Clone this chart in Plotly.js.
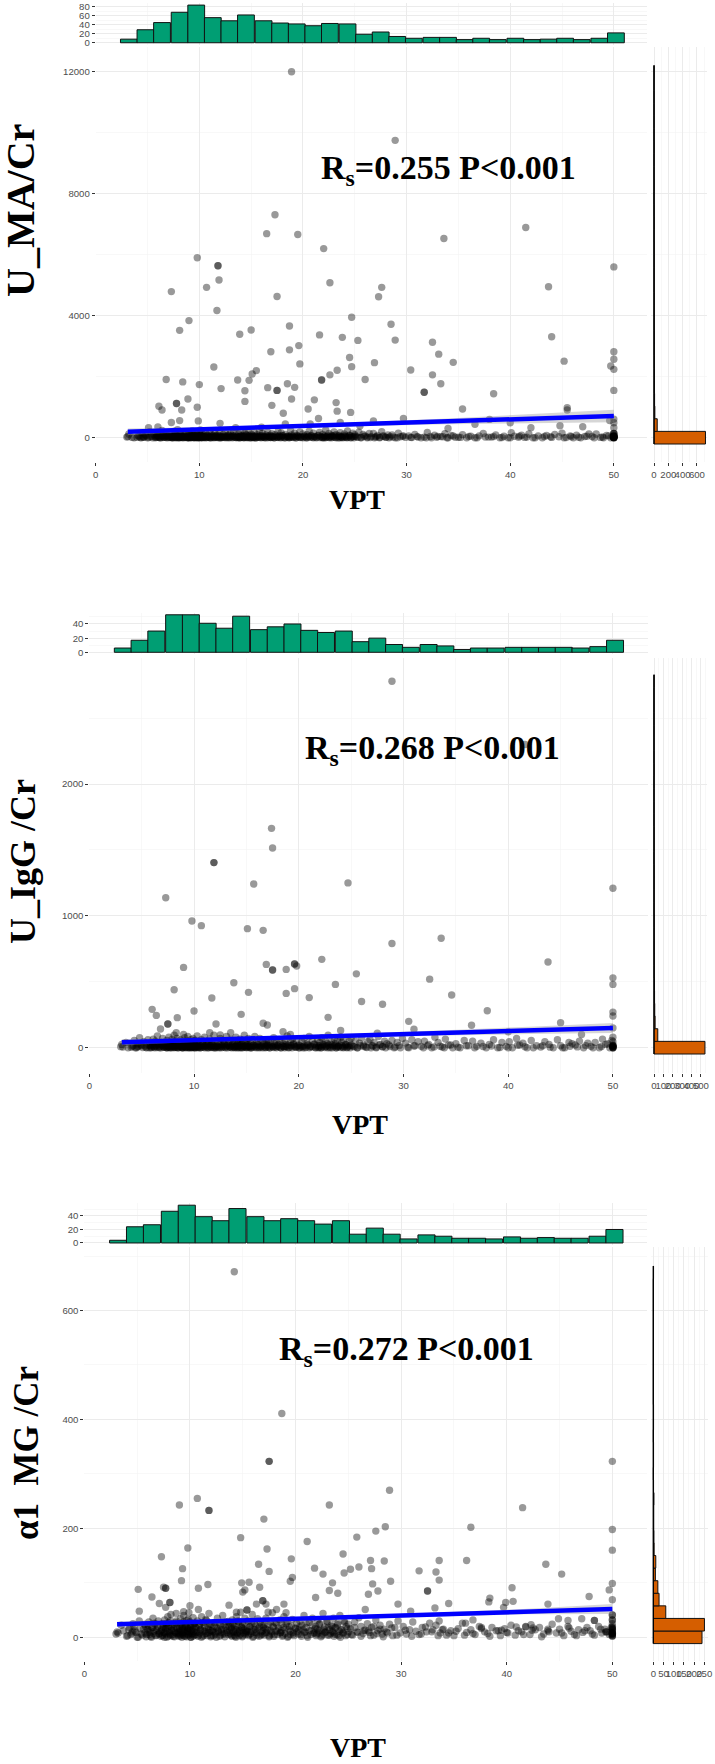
<!DOCTYPE html>
<html><head><meta charset="utf-8">
<script src="https://cdn.plot.ly/plotly-3.0.1.min.js"></script>
<style>html,body{margin:0;padding:0;background:#fff}</style>
</head><body><div id="chart" style="width:715px;height:1764px"></div>
<script>
// ---------------- DATA ----------------
// Top marginal histogram (VPT), 30 bins
const vptBinCenters = [3.2,4.8,6.4,8.1,9.7,11.3,12.9,14.5,16.2,17.8,19.4,21.0,22.6,24.3,25.9,27.5,29.1,30.7,32.4,34.0,35.6,37.2,38.8,40.5,42.1,43.7,45.3,46.9,48.6,50.2];
const vptBinWidth = 1.62;
const umaTopCounts = [8,29,45,68,84,56,49,62,49,44,42,38,43,42,19,24,14,10,12,12,7,10,7,10,7,8,10,7,10,22];
const iggTopCounts = [6,17,30,53,53,41,34,51,32,36,40,31,28,30,15,20,11,7,11,9,4,6,6,7,7,7,7,6,8,17];
const a1mTopCounts = [4,24,27,47,56,39,33,51,39,33,36,33,28,33,13,22,13,6,12,10,7,7,6,9,7,8,7,7,10,20];
// Right marginal histograms (y variable), 30 bins starting at 0
const umaRightCounts = [720,45,12,8,6,6,5,4,4,3,3,3,2,2,2,2,1,2,1,0,1,0,0,1,0,0,0,0,0,1];
const iggRightCounts = [543,40,12,8,6,5,3,3,2,2,2,1,1,1,1,0,1,1,0,0,0,0,1,0,0,0,0,0,0,1];
const a1mRightCounts = [239,251,61,28,22,10,12,4,3,2,2,3,1,0,1,1,0,1,1,0,0,0,0,0,0,0,0,0,0,1];
const umaBinWidth = 413.8, iggBinWidth = 95.9, a1mBinWidth = 23.1;

// Dense cluster of low values, group A (same patients' VPT in all panels)
const vptDense = [
3.1,3.2,3.5,
4.1,4.3,4.5,4.6,4.8,5.0,5.2,5.4,5.6,
5.8,5.9,6.0,6.1,6.2,6.3,6.4,6.5,6.6,6.7,6.8,6.9,7.0,7.1,
7.3,7.4,7.4,7.5,7.6,7.6,7.7,7.8,7.8,7.9,8.0,8.0,8.1,8.2,8.2,8.3,8.4,8.5,8.6,8.7,8.8,
8.9,9.0,9.0,9.1,9.1,9.2,9.3,9.3,9.4,9.5,9.5,9.6,9.7,9.7,9.8,9.8,9.9,10.0,10.0,10.1,10.1,10.2,10.3,10.3,10.4,10.4,
10.5,10.6,10.7,10.8,10.9,11.0,11.1,11.2,11.3,11.4,11.5,11.6,11.7,11.8,11.9,12.0,12.0,
12.2,12.3,12.4,12.5,12.6,12.7,12.8,12.9,13.0,13.1,13.2,13.3,13.4,13.5,13.7,
13.8,13.9,13.9,14.0,14.1,14.2,14.3,14.4,14.4,14.5,14.6,14.7,14.8,14.9,15.0,15.0,15.1,15.2,15.3,
15.4,15.5,15.6,15.7,15.8,15.9,16.0,16.1,16.2,16.3,16.4,16.6,16.7,16.8,16.9,
17.0,17.1,17.2,17.3,17.5,17.6,17.7,17.8,17.9,18.0,18.2,18.3,18.5,
18.6,18.7,18.8,18.9,19.0,19.2,19.3,19.4,19.5,19.7,19.8,20.0,20.1,
20.3,20.4,20.5,20.6,20.8,20.9,21.0,21.1,21.3,21.5,21.6,21.8,
21.9,22.0,22.1,22.2,22.3,22.5,22.6,22.7,22.8,23.0,23.1,23.2,23.4,
23.5,23.6,23.7,23.8,24.0,24.1,24.2,24.3,24.5,24.6,24.8,24.9,25.0,
25.2,25.4,25.6,25.8,26.0,26.2,26.4,26.6,
26.8,27.0,27.2,27.4,27.6,27.8,28.0,28.2,28.4,
28.6,28.9,29.2,29.4,29.7,29.9,
30.2,30.5,30.8,31.1,31.4,
31.7,32.0,32.4,32.7,33.0,
33.3,33.7,34.0,34.3,34.7,
35.0,35.4,35.8,36.2,
36.6,37.0,37.4,37.9,
38.2,38.6,39.0,39.4,
39.8,40.1,40.4,40.8,41.1,
41.4,41.8,42.2,42.7,
43.1,43.5,43.9,44.3,
44.7,45.0,45.4,45.8,46.1,
46.4,46.8,47.2,47.6,
47.9,48.3,48.7,49.0,49.3,
49.5,49.7,49.9,50,50,50,50,50,50];
const umaDense = [
40,120,10,
60,5,150,30,90,0,200,45,110,
15,70,180,25,0,95,240,50,10,130,35,80,5,160,
20,100,0,55,210,30,140,8,75,260,40,0,115,18,190,60,5,85,30,150,12,
65,0,170,28,95,10,220,45,130,3,75,35,185,15,105,50,0,140,25,80,250,8,60,120,20,90,
40,160,5,70,25,200,0,100,45,10,135,60,20,85,230,0,55,
30,110,5,175,48,15,90,0,140,35,65,210,10,80,25,
120,0,55,190,20,75,5,150,40,95,12,260,60,0,115,30,85,8,170,
45,0,100,20,220,65,10,140,35,0,90,180,25,70,5,
130,40,0,95,15,200,55,10,160,75,0,110,30,
60,5,240,90,20,145,0,70,35,185,10,120,50,
0,95,30,210,65,12,150,40,0,85,175,20,
110,0,60,250,25,135,5,80,45,190,15,100,0,
70,160,30,0,120,55,10,220,85,0,145,40,95,
20,180,5,110,60,0,140,35,
140,25,75,0,200,45,10,90,30,
90,0,150,30,60,10,
60,5,110,25,0,
20,170,0,80,40,
35,130,0,70,15,
15,100,0,50,
0,60,140,20,
20,90,0,45,
0,160,45,15,80,
10,120,0,60,
0,70,30,110,
30,150,5,60,0,
85,0,40,120,
40,120,10,0,70,
60,0,20,0,30,80,10,130,50];
const iggDense = [
25,5,40,
10,55,0,30,75,15,45,2,60,
20,0,35,65,8,50,12,90,28,0,42,18,70,5,
30,0,55,15,80,5,40,22,0,62,10,35,95,3,48,18,70,0,25,58,12,
0,40,15,75,28,5,52,20,85,0,33,10,60,45,2,25,70,12,38,0,55,18,90,30,6,48,
22,0,60,35,10,80,15,45,0,28,65,5,38,18,95,0,50,
12,45,0,70,25,8,55,35,0,85,18,40,5,62,28,
50,5,30,80,0,42,15,65,22,0,55,10,95,35,3,48,20,70,8,
35,0,60,18,85,5,40,25,0,70,12,50,30,0,45,
20,55,0,38,10,75,28,5,60,15,45,0,32,
8,50,25,90,0,40,15,65,30,5,55,20,0,
45,10,70,0,35,20,85,5,50,28,0,60,
15,40,0,75,25,55,8,35,95,0,45,18,65,
30,0,55,12,80,40,5,60,22,0,48,15,70,
10,50,0,35,75,20,5,45,
60,15,40,0,85,25,8,50,30,
20,55,5,40,0,70,
35,0,60,15,45,
10,50,25,0,80,
40,5,65,20,0,
30,0,55,15,
50,10,35,0,
25,60,0,40,
10,45,0,70,20,
35,0,55,15,
5,45,25,0,
60,15,0,40,30,
20,50,0,35,
10,40,0,65,25,
30,0,55,10,80,20,0,45,15];
const a1mDense = [
10,8,22,
3,18,8,25,12,0,30,6,15,
20,5,14,28,9,2,18,35,11,24,4,16,30,7,
12,25,3,18,32,8,15,22,0,38,10,27,5,19,42,13,2,24,9,30,16,
6,20,11,34,3,26,14,8,40,18,2,23,10,31,5,16,45,12,28,0,21,7,36,15,4,25,
18,9,30,4,22,14,38,2,26,11,33,7,19,44,13,3,24,
10,27,5,18,35,12,2,22,9,40,15,6,28,13,20,
25,4,16,32,9,21,2,14,38,7,28,11,46,18,3,24,13,35,8,
15,30,5,20,11,42,2,26,14,8,34,19,4,23,12,
22,8,35,14,3,28,10,45,18,5,25,12,32,
9,24,4,38,15,28,2,20,11,33,6,17,26,
14,30,5,22,40,10,18,3,27,12,35,8,
20,6,32,12,25,3,44,15,9,28,18,4,22,
11,35,6,18,26,3,40,14,9,30,20,5,24,
16,4,28,10,36,20,7,13,
25,9,18,4,32,12,22,6,15,
10,24,3,18,30,8,
20,6,14,28,11,
5,18,10,26,14,
22,8,15,4,12,
3,16,26,9,
14,5,20,10,
7,18,12,3,
16,8,22,4,12,
10,20,5,14,
18,6,12,24,
8,15,3,20,11,
5,14,9,18,
12,4,20,8,15,
10,5,18,8,12,3,25,15,6];

// Dense cluster, group B (core of the band)
const vptDense2 = [
3.0,3.7,
4.0,4.2,4.4,4.7,4.9,5.1,5.3,5.5,5.7,4.6,
5.75,5.85,5.95,6.05,6.15,6.25,6.35,6.45,6.55,6.65,6.75,6.85,6.95,7.05,7.15,7.25,
7.32,7.38,7.45,7.52,7.58,7.65,7.72,7.78,7.85,7.92,7.98,8.05,8.12,8.18,8.25,8.32,8.38,8.45,8.52,8.58,8.65,8.72,8.78,8.85,
8.92,8.97,9.02,9.08,9.13,9.18,9.23,9.28,9.33,9.38,9.43,9.48,9.53,9.58,9.63,9.68,9.73,9.78,9.83,9.88,9.93,9.98,10.03,10.08,10.13,10.18,10.23,10.28,10.35,10.45,
10.52,10.6,10.68,10.76,10.84,10.92,11.0,11.08,11.16,11.24,11.32,11.4,11.48,11.56,11.64,11.72,11.8,11.88,11.96,12.04,
12.12,12.2,12.3,12.4,12.5,12.6,12.7,12.8,12.9,13.0,13.1,13.2,13.3,13.4,13.5,13.6,13.65,13.75,
13.82,13.9,13.97,14.05,14.12,14.2,14.27,14.35,14.42,14.5,14.57,14.65,14.72,14.8,14.87,14.95,15.02,15.1,15.17,15.25,15.32,15.38,
15.45,15.55,15.65,15.75,15.85,15.95,16.05,16.15,16.25,16.35,16.45,16.55,16.65,16.75,16.85,16.95,
17.05,17.15,17.25,17.4,17.5,17.6,17.7,17.85,17.95,18.05,18.15,18.3,18.4,18.55,
18.65,18.75,18.85,19.0,19.1,19.25,19.35,19.5,19.6,19.75,19.85,20.0,20.15,
20.25,20.4,20.55,20.7,20.85,21.0,21.15,21.3,21.45,21.6,21.7,21.85,
21.95,22.05,22.15,22.25,22.4,22.5,22.6,22.75,22.85,22.95,23.05,23.2,23.3,23.45,
23.55,23.65,23.75,23.9,24.0,24.15,24.25,24.4,24.5,24.65,24.75,24.9,25.05,
25.3,25.6,25.9,26.2,26.5,
26.9,27.1,27.4,27.7,28.0,28.3,
28.7,29.1,29.6,
30.4,31.0,
31.9,32.3,32.9,
33.5,33.9,34.5,
35.2,36.0,
36.8,37.6,
38.4,39.2,
40.0,40.9,
41.6,42.4,
43.3,44.0,
45.2,45.9,
46.6,47.4,
48.1,48.9,
50,50,50,50,50,50];
const umaDense2 = [
20,0,
10,40,0,25,60,5,30,0,50,15,
0,35,10,55,20,0,45,5,70,15,30,0,60,25,8,40,
5,30,0,50,15,65,0,25,40,10,75,0,20,35,5,55,12,0,45,28,8,60,18,0,
12,0,40,22,60,5,30,0,50,15,75,8,35,0,25,55,10,0,45,18,65,3,30,0,20,50,8,38,0,15,
25,0,45,10,60,5,30,0,50,18,70,0,22,40,5,55,12,0,35,20,
0,30,10,55,20,0,45,8,65,15,35,0,50,25,5,40,0,18,
15,0,40,25,60,5,30,0,50,10,70,0,20,45,8,35,0,55,12,28,0,42,
0,25,50,10,35,0,60,15,40,5,30,0,55,20,8,45,
10,35,0,55,20,5,45,0,30,65,12,0,40,25,
0,30,15,50,5,40,0,60,20,8,35,0,45,
20,0,45,10,55,0,30,15,65,5,35,0,
10,40,0,25,60,5,35,0,50,15,70,0,28,45,
0,30,12,55,5,40,0,20,65,8,35,0,48,
15,0,40,25,5,
0,35,10,55,20,0,
25,0,45,
10,35,
0,40,15,
30,0,55,
10,40,
0,25,
35,5,
0,50,
20,0,
40,10,
0,30,
15,45,
0,25,
0,10,25,0,45,15];
const iggDense2 = [
8,0,
3,15,0,10,22,2,12,0,18,6,
0,12,4,20,8,0,16,2,25,6,11,0,22,9,3,14,
2,11,0,18,5,24,0,9,15,4,27,0,7,13,2,20,5,0,16,10,3,22,7,0,
5,0,15,8,22,2,11,0,18,6,27,3,13,0,9,20,4,0,16,7,24,1,11,0,8,18,3,14,0,6,
9,0,16,4,22,2,11,0,18,7,25,0,8,15,2,20,5,0,13,7,
0,11,4,20,7,0,16,3,24,6,13,0,18,9,2,15,0,7,
6,0,15,9,22,2,11,0,18,4,26,0,7,16,3,13,0,20,5,10,0,15,
0,9,18,4,13,0,22,6,15,2,11,0,20,7,3,16,
4,13,0,20,7,2,16,0,11,24,5,0,15,9,
0,11,6,18,2,15,0,22,7,3,13,0,16,
7,0,16,4,20,0,11,6,24,2,13,0,
4,15,0,9,22,2,13,0,18,6,25,0,10,16,
0,11,5,20,2,15,0,7,24,3,13,0,18,
6,0,15,9,2,
0,13,4,20,7,0,
9,0,16,
4,13,
0,15,6,
11,0,20,
4,15,
0,9,
13,2,
0,18,
7,0,
15,4,
0,11,
6,16,
0,9,
0,4,9,0,16,6];
const a1mDense2 = [
6,12,
2,14,5,20,9,0,16,4,24,11,
8,1,15,22,5,12,0,18,7,26,3,13,20,6,10,2,
14,4,21,9,0,17,6,25,11,2,19,8,30,3,13,22,5,16,1,10,27,7,18,4,
9,2,16,6,23,12,0,19,5,28,10,3,14,21,7,1,17,11,33,4,15,8,24,0,13,6,20,2,11,26,
5,17,10,2,22,8,14,0,27,12,4,19,7,31,3,15,9,24,1,11,
13,3,20,8,0,16,10,26,4,14,6,22,1,18,9,29,5,12,
7,18,2,24,11,4,15,0,21,9,30,3,13,6,19,1,16,8,26,5,12,10,
11,3,19,7,25,0,14,9,21,4,16,2,28,10,6,18,
4,16,9,23,1,13,6,20,2,27,11,5,17,8,
12,2,18,7,25,0,14,5,21,9,3,16,10,
6,19,2,14,9,26,0,12,5,22,8,16,
3,15,8,24,1,12,6,19,10,30,4,14,7,20,
9,2,17,5,23,11,0,14,7,27,3,16,10,
5,18,9,2,13,
12,3,20,7,15,1,
8,17,4,
13,2,
6,19,10,
3,14,8,
11,4,
7,16,
2,12,
9,19,
5,13,
1,10,
8,17,
3,12,
6,15,
2,9,5,14,3,20];

// Spread (higher) points: [VPT, value]
const umaSpread = [[18.9,12000],[28.9,9750],[17.3,7310],[41.5,6890],[16.5,6690],[19.5,6660],[33.6,6530],[22.0,6200],[9.8,5900],[11.8,5640],[11.8,5640],[50.0,5600],[11.9,5170],[22.6,5080],[43.7,4950],[10.7,4930],[27.6,4930],[7.3,4790],[17.5,4630],[27.3,4620],[11.7,4170],[24.7,3950],[9.0,3840],[28.5,3720],[18.7,3660],[15.0,3530],[8.1,3520],[13.9,3390],[21.6,3370],[44.0,3310],[23.8,3290],[28.9,3200],[25.3,3190],[32.5,3130],[19.6,3020],[18.7,2880],[16.9,2820],[50.0,2820],[33.1,2740],[24.5,2630],[50.0,2570],[45.2,2510],[34.5,2470],[26.9,2460],[19.7,2420],[49.7,2350],[24.7,2330],[11.4,2320],[50.0,2240],[30.4,2220],[23.3,2210],[15.5,2200],[15.1,2090],[22.6,2060],[32.5,2060],[6.8,1910],[26.0,1910],[13.7,1890],[21.8,1890],[21.8,1890],[14.8,1880],[8.4,1830],[18.5,1770],[33.3,1770],[10.0,1740],[19.2,1650],[16.6,1640],[12.1,1610],[17.5,1550],[17.5,1550],[50.0,1550],[14.4,1540],[31.7,1490],[31.7,1490],[38.4,1440],[8.9,1270],[18.9,1270],[21.1,1240],[14.4,1190],[23.2,1150],[7.8,1120],[7.8,1120],[17.0,1060],[6.1,1030],[9.8,1000],[45.5,980],[20.5,940],[35.4,940],[6.4,910],[8.3,910],[45.5,910],[23.3,870],[24.6,830],[18.1,800],[21.5,630],[29.7,630],[50.0,610],[38.0,600],[8.1,560],[9.9,550],[26.8,550],[49.6,560],[7.3,500],[23.6,500],[40.0,490],[12.0,470],[18.3,450],[20.7,450],[36.6,440],[44.8,390],[6.0,350],[5.1,330],[50.0,330],[13.5,330],[16.0,340],[25.5,380],[34.0,300],[42.0,330],[47.0,360],[50,490],[50,140],[50,140],[50,40],[50,40],[50,20]];
const iggSpread = [[28.9,2780],[41.6,2300],[17.4,1664],[17.5,1515],[11.9,1404],[11.9,1404],[24.7,1250],[15.7,1242],[50.0,1210],[7.3,1138],[9.8,961],[10.7,926],[15.1,903],[16.6,890],[33.6,830],[28.9,790],[43.8,650],[9.0,609],[16.9,632],[17.5,589],[17.5,589],[18.8,594],[19.6,635],[19.6,635],[19.8,620],[22.2,670],[25.5,560],[32.5,520],[50.0,530],[13.8,493],[8.1,440],[15.2,420],[18.8,412],[19.6,448],[23.5,480],[50.0,480],[11.7,377],[34.6,400],[21.0,380],[26.0,350],[28.0,330],[6.0,291],[6.4,245],[10.0,278],[14.5,253],[38.0,280],[50.0,270],[8.4,228],[7.5,180],[7.5,180],[6.8,142],[12.1,180],[16.6,185],[17.0,172],[22.8,230],[30.5,200],[36.5,170],[45.0,190],[50.0,240],[8.3,114],[9.0,101],[11.5,114],[13.5,114],[12.5,96],[18.5,121],[19.2,101],[24.0,130],[27.5,110],[31.0,140],[40.0,120],[47.0,100],[50.0,150]];
const a1mSpread = [[14.2,671],[18.7,411],[17.5,323],[17.5,323],[50,323],[28.9,270],[10.7,255],[9.0,243],[23.2,243],[41.5,238],[11.8,233],[11.8,233],[17.0,217],[36.6,202],[28.5,203],[50,198],[27.6,195],[25.8,184],[14.8,183],[21.1,176],[9.8,164],[17.3,162],[50,160],[24.5,153],[7.3,148],[19.6,144],[36.2,141],[33.6,141],[28.4,140],[27.1,141],[16.5,134],[43.7,134],[26.0,129],[21.8,127],[9.3,126],[27.2,126],[25.2,125],[31.7,122],[17.5,121],[33.3,120],[24.6,118],[22.6,116],[45.2,116],[19.7,110],[33.6,105],[9.2,104],[29.0,103],[19.5,103],[15.6,101],[14.9,100],[23.5,100],[27.3,98],[50,99],[11.7,97],[5.1,88],[7.5,92],[7.7,90],[7.7,90],[10.8,90],[16.6,92],[40.5,91],[15.2,87],[49.7,87],[32.5,85],[32.5,85],[27.8,85],[23.2,86],[15.0,83],[24.0,81],[26.9,79],[6.4,74],[21.9,73],[38.4,72],[47.8,75],[50,69],[16.9,67],[16.9,67],[40.6,66],[38.3,65],[8.1,64],[8.1,64],[39.9,64],[7.1,62],[34.5,62],[16.3,61],[17.2,61],[18.9,61],[29.7,61],[43.9,61],[13.7,59],[10.0,58],[7.7,55],[39.7,55],[33.2,54],[10.8,51],[26.6,51],[18.2,51],[15.4,50],[15.4,50],[5.2,48],[30.9,48],[9.4,47],[14.4,46],[17.4,46],[19.1,45],[8.7,44],[50,41],[50,41],[44.9,34],[47.1,34],[45.8,31],[48.3,31],[48.3,31],[36.8,32],[50,32],[50,32],[33.6,30],[36.1,26],[42.3,23],[41.8,19],[37.6,18],[42.5,17],[50,17],[50,17],[43.9,15],[39.5,13],[49.4,10],[49.4,10],[50,7],[50,7]];

// Linear fit with confidence band
const fitVpt = [3.1,10,18,26,34,42,50];
const umaFit = [197,273,360,448,536,623,711];
const umaFitLow = [90,205,305,385,440,478,505];
const umaFitHigh = [305,341,415,511,632,768,917];
const iggFit = [41,57,75,94,113,131,150];
const iggFitLow = [18,43,64,81,93,103,112];
const iggFitHigh = [64,71,86,107,133,159,188];
const a1mFit = [24,28.1,32.9,37.7,42.4,47.2,52];
const a1mFitLow = [19.5,25.3,30.7,35.1,38.9,42.2,43];
const a1mFitHigh = [28.5,30.9,35.1,40.3,45.9,52.2,61];

const yTitles = ['U_MA/Cr','U_IgG /Cr','\u03b11  MG /Cr'];
const rsTexts = ['R<sub>s</sub>=0.255 P&lt;0.001','R<sub>s</sub>=0.268 P&lt;0.001','R<sub>s</sub>=0.272 P&lt;0.001'];
const xTitle = 'VPT';

// ---------------- LAYOUT GEOMETRY (pixels) ----------------
const W = 715, H = 1764;
const fx = v => v / W;
const fy = (top, bottom) => [1 - bottom / H, 1 - top / H];

const panels = [
 {dense: umaDense, dense2: umaDense2, spread: umaSpread, top: umaTopCounts, right: umaRightCounts, binW: umaBinWidth,
  fit: umaFit, lo: umaFitLow, hi: umaFitHigh,
  sx: [95.7, 647], sxr: [0, 53.2], sy: [47, 462], syr: [-797, 12810], ydt: 4000,
  ty: [3.3, 45], tyr: [-5, 88], tdt: 20, rx: [650.8, 706.9], rxr: [-45, 740], rdt: 200,
  yt: [20, 211, 40], rs: [448, 170], vt: [357, 500]},
 {dense: iggDense, dense2: iggDense2, spread: iggSpread, top: iggTopCounts, right: iggRightCounts, binW: iggBinWidth,
  fit: iggFit, lo: iggFitLow, hi: iggFitHigh,
  sx: [89.3, 647.5], sxr: [0, 53.3], sy: [658.3, 1073], syr: [-192, 2954], ydt: 1000,
  ty: [613.3, 654.2], tyr: [-2.7, 55.1], tdt: 20, rx: [651, 707], rxr: [-32, 565], rdt: 100,
  yt: [23, 862, 36], rs: [432, 750], vt: [360, 1124]},
 {dense: a1mDense, dense2: a1mDense2, spread: a1mSpread, top: a1mTopCounts, right: a1mRightCounts, binW: a1mBinWidth,
  fit: a1mFit, lo: a1mFitLow, hi: a1mFitHigh,
  sx: [84.35, 647.2], sxr: [0, 53.3], sy: [1247.3, 1661], syr: [-43.5, 716], ydt: 200,
  ty: [1203.3, 1245], tyr: [-3, 58.8], tdt: 20, rx: [650.5, 707.5], rxr: [-14, 266], rdt: 50,
  yt: [26, 1453, 35], rs: [406.5, 1351], vt: [357.5, 1747]}
];

const tickFont = {family: 'Liberation Sans, Arial, sans-serif', size: 9.6, color: '#4d4d4d'};
const gridMajor = '#ebebeb', gridMinor = '#f3f3f3';
function axis(o, minorDt) {
  return Object.assign({
    showline: false, zeroline: false, showgrid: true, gridcolor: gridMajor, gridwidth: 1,
    ticks: 'outside', ticklen: 3, tickwidth: 1, tickcolor: '#333333', tickfont: tickFont,
    tickangle: 0, tickformat: 'd', fixedrange: true, tick0: 0,
    minor: {dtick: minorDt, showgrid: true, gridcolor: gridMinor, gridwidth: 0.6, ticks: ''}
  }, o);
}

const traces = [];
const layout = {
  width: W, height: H, margin: {l: 0, r: 0, t: 0, b: 0},
  paper_bgcolor: '#ffffff', plot_bgcolor: 'rgba(0,0,0,0)', showlegend: false,
  hovermode: false, bargap: 0, annotations: []
};
const serif = 'Liberation Serif, Times New Roman, serif';

panels.forEach((P, i) => {
  const n1 = 3 * i + 1, n2 = 3 * i + 2, n3 = 3 * i + 3;
  const id = n => (n === 1 ? '' : String(n));
  const xs = 'x' + id(n1), ys = 'y' + id(n1), xt = 'x' + id(n2), yt = 'y' + id(n2), xr = 'x' + id(n3), yr = 'y' + id(n3);

  // scatter points
  const px = vptDense.concat(vptDense2, P.spread.map(d => d[0]));
  const py = P.dense.concat(P.dense2, P.spread.map(d => d[1]));
  traces.push({type: 'scatter', mode: 'markers', x: px, y: py, xaxis: xs, yaxis: ys,
    marker: {size: 7.4, color: 'rgba(0,0,0,0.4)', line: {width: 0}}, hoverinfo: 'skip'});
  // confidence band
  traces.push({type: 'scatter', mode: 'lines', x: fitVpt, y: P.lo, xaxis: xs, yaxis: ys,
    line: {width: 0, color: 'rgba(0,0,0,0)'}, hoverinfo: 'skip'});
  traces.push({type: 'scatter', mode: 'lines', x: fitVpt, y: P.hi, xaxis: xs, yaxis: ys, fill: 'tonexty',
    fillcolor: 'rgba(153,153,153,0.4)', line: {width: 0, color: 'rgba(0,0,0,0)'}, hoverinfo: 'skip'});
  // fit line
  traces.push({type: 'scatter', mode: 'lines', x: fitVpt, y: P.fit, xaxis: xs, yaxis: ys,
    line: {width: 4.5, color: '#0000ff'}, hoverinfo: 'skip'});
  // top histogram
  traces.push({type: 'bar', x: vptBinCenters, y: P.top, width: vptBinWidth, xaxis: xt, yaxis: yt,
    marker: {color: '#009E73', line: {color: '#111111', width: 1}}, hoverinfo: 'skip'});
  // right histogram
  const centers = P.right.map((_, k) => k * P.binW);
  traces.push({type: 'scatter', mode: 'lines', x: [0, 0], y: [-P.binW / 2, (P.right.length - 0.5) * P.binW],
    xaxis: xr, yaxis: yr, line: {color: '#000000', width: 1.3}, hoverinfo: 'skip'});
  traces.push({type: 'bar', orientation: 'h', y: centers, x: P.right, width: P.binW, xaxis: xr, yaxis: yr,
    marker: {color: '#D55E00', line: {color: '#111111', width: 1}}, hoverinfo: 'skip'});

  const sxDom = [fx(P.sx[0]), fx(P.sx[1])];
  layout['xaxis' + id(n1)] = axis({domain: sxDom, range: P.sxr, anchor: ys, dtick: 10}, 5);
  layout['yaxis' + id(n1)] = axis({domain: fy(P.sy[0], P.sy[1]), range: P.syr, anchor: xs, dtick: P.ydt}, P.ydt / 2);
  layout['xaxis' + id(n2)] = axis({domain: sxDom, range: P.sxr, anchor: yt, dtick: 10, showticklabels: false, ticks: ''}, 5);
  layout['yaxis' + id(n2)] = axis({domain: fy(P.ty[0], P.ty[1]), range: P.tyr, anchor: xt, dtick: P.tdt}, P.tdt / 2);
  layout['xaxis' + id(n3)] = axis({domain: [fx(P.rx[0]), fx(P.rx[1])], range: P.rxr, anchor: yr, dtick: P.rdt}, P.rdt / 2);
  layout['yaxis' + id(n3)] = axis({domain: fy(P.sy[0], P.sy[1]), range: P.syr, anchor: xr, dtick: P.ydt, showticklabels: false, ticks: ''}, P.ydt / 2);

  layout.annotations.push({xref: 'paper', yref: 'paper', x: fx(P.yt[0]), y: 1 - P.yt[1] / H, text: '<b>' + yTitles[i] + '</b>',
    textangle: -90, showarrow: false, xanchor: 'center', yanchor: 'middle', font: {family: serif, size: P.yt[2], color: '#000'}});
  layout.annotations.push({xref: 'paper', yref: 'paper', x: fx(P.rs[0]), y: 1 - P.rs[1] / H, text: '<b>' + rsTexts[i] + '</b>',
    showarrow: false, xanchor: 'center', yanchor: 'middle', font: {family: serif, size: 34, color: '#000'}});
  layout.annotations.push({xref: 'paper', yref: 'paper', x: fx(P.vt[0]), y: 1 - P.vt[1] / H, text: '<b>' + xTitle + '</b>',
    showarrow: false, xanchor: 'center', yanchor: 'middle', font: {family: serif, size: 28, color: '#000'}});
});

Plotly.newPlot('chart', traces, layout, {staticPlot: true, displayModeBar: false});
</script></body></html>
